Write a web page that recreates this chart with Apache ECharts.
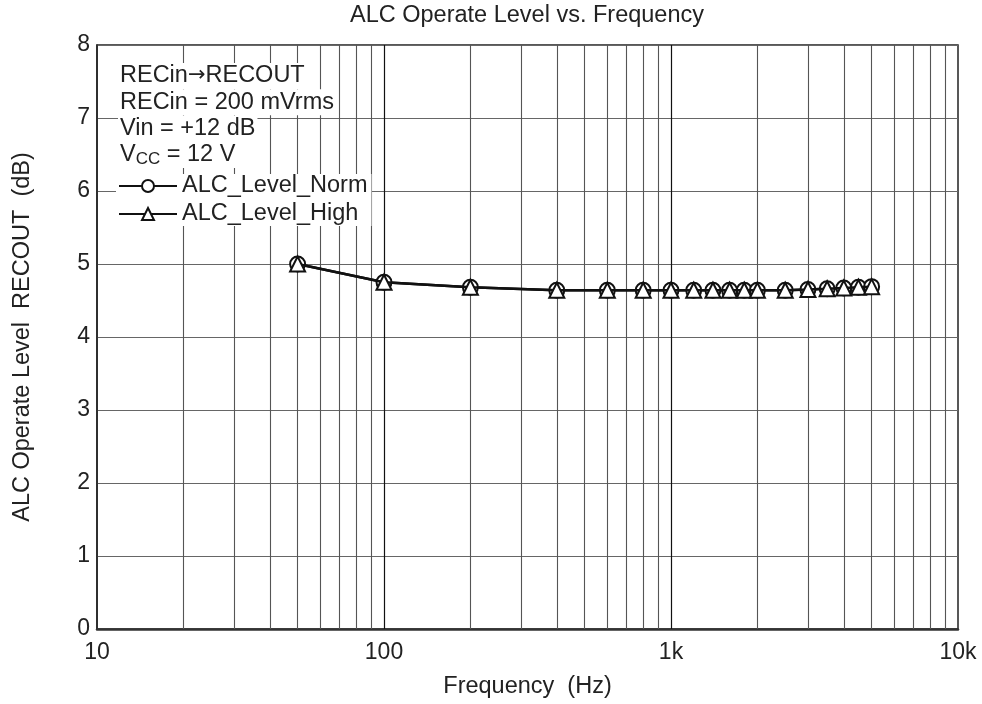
<!DOCTYPE html>
<html><head><meta charset="utf-8">
<script src="https://cdn.jsdelivr.net/npm/echarts@6/dist/echarts.min.js"></script>
<style>html,body{margin:0;padding:0;background:#fff}#c{width:982px;height:704px}</style>
</head><body><div id="c"></div>
<script>
const freqs = [50,100,200,400,600,800,1000,1200,1400,1600,1800,2000,2500,3000,3500,4000,4500,5000];
const normVals = [5.00,4.75,4.68,4.64,4.64,4.64,4.64,4.64,4.64,4.64,4.64,4.64,4.64,4.65,4.66,4.67,4.68,4.69];
const highVals = [5.00,4.75,4.68,4.64,4.64,4.64,4.64,4.64,4.64,4.64,4.64,4.64,4.64,4.65,4.66,4.67,4.68,4.69];
const xTickLabels = {10:'10',100:'100',1000:'1k',10000:'10k'};
const annoLines = ['{n|RECin}{a|\u2192}{n|RECOUT}','RECin = 200 mVrms','Vin = +12 dB','{n|V}{s|CC}{n| = 12 V}'];

// grid line positions (1-2-...-9 per decade)
const minorGrid = [], majorGrid = [];
for (let d = 10; d < 10000; d *= 10) {
  for (let k = 2; k <= 9; k++) minorGrid.push(d*k);
  if (d > 10) majorGrid.push(d);
}

const font = '"Liberation Sans", Arial, Helvetica, sans-serif';
const fs = 23.5;
const chart = echarts.init(document.getElementById('c'));
const sym = {color:'#fff', borderColor:'#111', borderWidth:2};
const titles = [{text:'ALC Operate Level vs. Frequency', left:527, top:4, textAlign:'center', padding:0,
    textStyle:{fontFamily:font, fontSize:23.5, fontWeight:'normal', color:'#222'}}];
annoLines.forEach((t,i)=>titles.push({text:t, left:118, top:63+i*26.3, z:20, padding:[0,2,0,2],
  backgroundColor:'#fff',
  textStyle:{fontFamily:font, fontSize:fs, fontWeight:'normal', color:'#222', lineHeight:26,
    rich:{n:{fontFamily:font, fontSize:fs, color:'#222', lineHeight:26},
          a:{fontFamily:'"DejaVu Sans", sans-serif', fontSize:21, color:'#222', lineHeight:26},
          s:{fontFamily:font, fontSize:17, color:'#222', lineHeight:26, verticalAlign:'bottom', padding:[10,0,0,0]}}}}));
chart.setOption({
  animation:false,
  title:titles,
  grid:{left:97, right:24, top:45, bottom:74, show:true, borderColor:'#222', borderWidth:1.5, backgroundColor:'transparent'},
  xAxis:{type:'log', logBase:10, min:10, max:10000,
    axisLine:{show:true, onZero:false, lineStyle:{color:'#333', width:2.5}},
    axisTick:{show:false}, splitLine:{show:false},
    axisLabel:{fontFamily:font, fontSize:23, color:'#222', margin:12,
      formatter:v=>xTickLabels[Math.round(v)]||''},
    name:'Frequency  (Hz)', nameLocation:'middle', nameGap:46,
    nameTextStyle:{fontFamily:font, fontSize:23.5, color:'#222'}},
  yAxis:{type:'value', min:0, max:8, interval:1,
    axisLine:{show:true, lineStyle:{color:'#222', width:1.5}}, axisTick:{show:false},
    splitLine:{show:true, lineStyle:{color:'#666', width:1.2}},
    axisLabel:{fontFamily:font, fontSize:23, color:'#222', margin:7},
    name:'ALC Operate Level  RECOUT  (dB)', nameLocation:'middle', nameGap:62,
    nameTextStyle:{fontFamily:font, fontSize:23.5, color:'#222'}},
  legend:{orient:'vertical', left:116, top:174, itemWidth:58, itemHeight:15, itemGap:4, z:20,
    backgroundColor:'#fff', padding:[0,4,0,2],
    textStyle:{fontFamily:font, fontSize:fs, color:'#222'},
    data:['ALC_Level_Norm','ALC_Level_High']},
  series:[
    {name:'grid', type:'line', data:[], silent:true, z:1,
      markLine:{silent:true, z:1, symbol:'none', label:{show:false},
        data:[...minorGrid.map(v=>({xAxis:v, lineStyle:{color:'#555', width:1.1, type:'solid'}})),
              ...majorGrid.map(v=>({xAxis:v, lineStyle:{color:'#111', width:1.2, type:'solid'}}))]}},
    {name:'ALC_Level_Norm', type:'line', z:5, data:freqs.map((f,i)=>[f,normVals[i]]),
      symbol:'circle', symbolSize:15, lineStyle:{color:'#111', width:2.5}, itemStyle:sym, color:'#111'},
    {name:'ALC_Level_High', type:'line', z:6, data:freqs.map((f,i)=>[f,highVals[i]]),
      symbol:'triangle', symbolSize:15, lineStyle:{color:'#111', width:2.5}, itemStyle:sym, color:'#111'}
  ]
});
</script></body></html>
